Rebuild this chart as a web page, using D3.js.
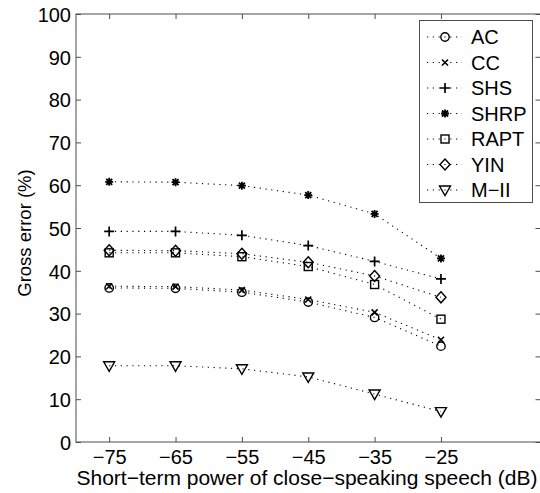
<!DOCTYPE html>
<html><head><meta charset="utf-8">
<script src="https://cdn.jsdelivr.net/npm/d3@7"></script>
<style>body{margin:0;background:#fff}svg{display:block}text{font-family:"Liberation Sans",Arial,Helvetica,sans-serif;fill:#000}</style>
</head><body><svg id="c" width="540" height="493"></svg>
<script>
const xValues = [-75, -65, -55, -45, -35, -25];
const xTicks = [-75, -65, -55, -45, -35, -25];
const yTicks = [0, 10, 20, 30, 40, 50, 60, 70, 80, 90, 100];
const seriesNames = ["AC", "CC", "SHS", "SHRP", "RAPT", "YIN", "M\u2212II"];
const markerTypes = ["circle", "x", "plus", "star", "square", "diamond", "triangle"];
const acVals   = [36.0, 35.9, 35.0, 32.7, 29.1, 22.4];
const ccVals   = [36.4, 36.3, 35.5, 33.3, 30.3, 23.9];
const shsVals  = [49.2, 49.2, 48.3, 45.9, 42.2, 38.1];
const shrpVals = [60.8, 60.7, 59.9, 57.7, 53.3, 42.9];
const raptVals = [44.2, 44.2, 43.3, 41.0, 36.8, 28.7];
const yinVals  = [44.8, 44.7, 44.0, 42.0, 38.8, 33.8];
const m2Vals   = [17.8, 17.8, 17.1, 15.2, 11.2, 7.1];
const allVals = [acVals, ccVals, shsVals, shrpVals, raptVals, yinVals, m2Vals];

const svg = d3.select("#c");
const L = 76, R = 540.5, T = 14, B = 442;
const x = d3.scaleLinear().domain([-80, -10]).range([L, R]);
const y = d3.scaleLinear().domain([0, 100]).range([B, T]);
const axisColor = "#4d4d4d";

svg.append("rect").attr("x", L).attr("y", T).attr("width", R - L).attr("height", B - T)
  .attr("fill", "none").attr("stroke", axisColor).attr("stroke-width", 1);

const fs = "20px";
const xAx = svg.append("g").attr("transform", `translate(0,${B})`)
  .call(d3.axisBottom(x).tickValues(xTicks).tickSize(-5).tickPadding(8).tickFormat(d => String(d).replace("-", "\u2212")));
const xAxTop = svg.append("g").attr("transform", `translate(0,${T})`)
  .call(d3.axisTop(x).tickValues(xTicks).tickSize(-5).tickFormat(""));
const yAx = svg.append("g").attr("transform", `translate(${L},0)`)
  .call(d3.axisLeft(y).tickValues(yTicks).tickSize(-5).tickPadding(5));
const yAxR = svg.append("g").attr("transform", `translate(${R},0)`)
  .call(d3.axisRight(y).tickValues(yTicks).tickSize(-5).tickFormat(""));
[xAx, xAxTop, yAx, yAxR].forEach(g => {
  g.select(".domain").remove();
  g.selectAll(".tick line").attr("stroke", axisColor);
  g.selectAll(".tick text").style("font-size", fs).attr("fill", "#000")
    .style("font-family", '"Liberation Sans",Arial,sans-serif');
});
yAx.selectAll(".tick text").attr("dy", "0.36em");
xAx.selectAll(".tick text").attr("dy", "0.71em");

svg.append("text").attr("x", 307).attr("y", 485).attr("text-anchor", "middle")
  .style("font-size", "21px").text("Short\u2212term power of close\u2212speaking speech (dB)");
svg.append("text").attr("transform", "translate(31,233) rotate(-90)").attr("text-anchor", "middle")
  .style("font-size", "18.5px").text("Gross error (%)");

function drawMarker(g, type, cx, cy) {
  const st = {stroke: "#000", "stroke-width": 1.4, fill: "none"};
  const app = (tag, attrs) => { const e = g.append(tag); Object.entries(Object.assign({}, st, attrs)).forEach(([k, v]) => e.attr(k, v)); return e; };
  if (type === "circle") app("circle", {cx, cy, r: 4.2});
  else if (type === "x") app("path", {d: `M${cx-3},${cy-3}L${cx+3},${cy+3}M${cx-3},${cy+3}L${cx+3},${cy-3}`, "stroke-width": 1.6});
  else if (type === "plus") app("path", {d: `M${cx-5},${cy}L${cx+5},${cy}M${cx},${cy-5}L${cx},${cy+5}`, "stroke-width": 1.7});
  else if (type === "star") {
    app("path", {d: `M${cx-4},${cy}L${cx+4},${cy}M${cx},${cy-4}L${cx},${cy+4}M${cx-3},${cy-3}L${cx+3},${cy+3}M${cx-3},${cy+3}L${cx+3},${cy-3}`, "stroke-width": 1.8});
    app("circle", {cx, cy, r: 2.2, fill: "#000", stroke: "none"});
  }
  else if (type === "square") app("rect", {x: cx - 4, y: cy - 4, width: 8, height: 8});
  else if (type === "diamond") app("path", {d: `M${cx},${cy-5.5}L${cx+5},${cy}L${cx},${cy+5.5}L${cx-5},${cy}Z`});
  else if (type === "triangle") app("path", {d: `M${cx-5.5},${cy-4}L${cx+5.5},${cy-4}L${cx},${cy+5.5}Z`});
}

const line = d3.line().x((d, i) => x(xValues[i])).y(d => y(d));
const dash = "1.2,4.6";
allVals.forEach((vals) => {
  svg.append("path").attr("d", line(vals)).attr("fill", "none").attr("stroke", "#000")
    .attr("stroke-width", 1.1).attr("stroke-dasharray", dash);
});
allVals.forEach((vals, si) => {
  const g = svg.append("g");
  vals.forEach((v, i) => drawMarker(g, markerTypes[si], x(xValues[i]), y(v)));
});

const lg = svg.append("g");
lg.append("rect").attr("x", 419.5).attr("y", 20.5).attr("width", 113).attr("height", 182)
  .attr("fill", "#fff").attr("stroke", axisColor).attr("stroke-width", 1);
const ly = d3.scalePoint().domain(seriesNames).range([37, 190]);
seriesNames.forEach((n, i) => {
  const yy = ly(n);
  lg.append("line").attr("x1", 427).attr("x2", 462).attr("y1", yy).attr("y2", yy)
    .attr("stroke", "#000").attr("stroke-width", 1.1).attr("stroke-dasharray", dash);
  const mg = lg.append("g");
  drawMarker(mg, markerTypes[i], 445, yy);
  lg.append("text").attr("x", 471).attr("y", yy).attr("dy", "0.36em").style("font-size", fs).text(n);
});
</script></body></html>
